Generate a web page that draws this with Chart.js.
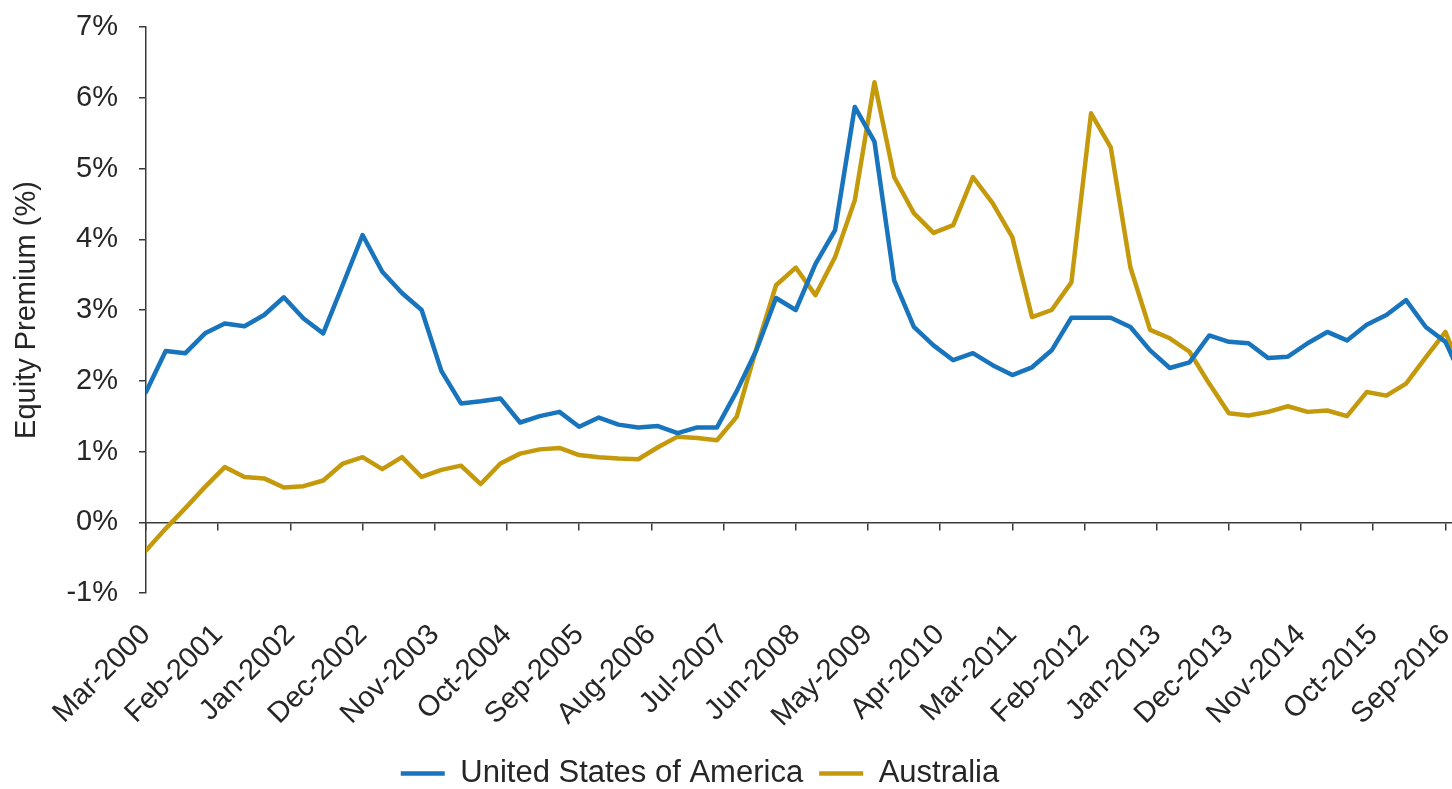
<!DOCTYPE html>
<html>
<head>
<meta charset="utf-8">
<script src="https://cdn.jsdelivr.net/npm/chart.js@4/dist/chart.umd.min.js"></script>
<style>
  html, body { margin: 0; padding: 0; background: #fff; }
  #wrap { width: 1452px; height: 789px; position: relative; }
</style>
</head>
<body>
<div id="wrap"><canvas id="premium"></canvas></div>
<script>
// Quarterly equity premium readings, first quarter is Mar-2000
const usa = [
  1.84, 2.42, 2.39, 2.67, 2.81, 2.77, 2.93, 3.18, 2.88, 2.67,
  3.36, 4.06, 3.54, 3.24, 3.00, 2.14, 1.68, 1.71, 1.75, 1.41,
  1.50, 1.56, 1.35, 1.48, 1.38, 1.34, 1.36, 1.26, 1.34, 1.34,
  1.85, 2.43, 3.17, 3.00, 3.65, 4.13, 5.87, 5.38, 3.42, 2.76,
  2.50, 2.29, 2.39, 2.22, 2.08, 2.19, 2.43, 2.89, 2.89, 2.89,
  2.76, 2.43, 2.18, 2.26, 2.64, 2.55, 2.53, 2.32, 2.34, 2.53,
  2.69, 2.57, 2.79, 2.93, 3.14, 2.76, 2.55, 1.95
];
const australia = [
  -0.40, -0.09, 0.20, 0.50, 0.78, 0.64, 0.62, 0.49, 0.51, 0.59,
  0.83, 0.92, 0.75, 0.92, 0.64, 0.74, 0.80, 0.54, 0.83, 0.97,
  1.03, 1.05, 0.95, 0.92, 0.90, 0.89, 1.06, 1.21, 1.19, 1.16,
  1.49, 2.45, 3.35, 3.60, 3.21, 3.75, 4.55, 6.22, 4.88, 4.37,
  4.09, 4.20, 4.88, 4.51, 4.03, 2.90, 3.00, 3.39, 5.78, 5.30,
  3.60, 2.72, 2.60, 2.41, 1.96, 1.54, 1.51, 1.56, 1.64, 1.56,
  1.58, 1.50, 1.84, 1.79, 1.96, 2.33, 2.69, 2.00
];

// x axis runs in months counted from Mar-2000, labelled every 11 months
const tickLabels = [
  'Mar-2000', 'Feb-2001', 'Jan-2002', 'Dec-2002', 'Nov-2003', 'Oct-2004',
  'Sep-2005', 'Aug-2006', 'Jul-2007', 'Jun-2008', 'May-2009', 'Apr-2010',
  'Mar-2011', 'Feb-2012', 'Jan-2013', 'Dec-2013', 'Nov-2014', 'Oct-2015',
  'Sep-2016'
];
const tickMonths = tickLabels.map((_, i) => i * 11);
const yTicks = [-1, 0, 1, 2, 3, 4, 5, 6, 7];

const FONT = 'Liberation Sans, Arial, sans-serif';
const TEXT = '#262626';
const AXIS = '#3a3a3a';

const toPoints = values => values.map((y, i) => ({ x: i * 3, y }));
const setTicks = (scale, values) => { scale.ticks = values.map(value => ({ value })); };

// legend sits a little left of centre and close to the bottom edge
const legendNudge = {
  id: 'legendNudge',
  afterLayout(chart) {
    const lg = chart.legend;
    lg.left -= 26;
    lg.right -= 26;
    lg.top += 10;
    lg.bottom += 10;
  }
};

new Chart(document.getElementById('premium'), {
  type: 'line',
  data: {
    datasets: [
      {
        label: 'United States of America',
        data: toPoints(usa),
        borderColor: '#1874BC',
        backgroundColor: '#1874BC',
        borderWidth: 4.5
      },
      {
        label: 'Australia',
        data: toPoints(australia),
        borderColor: '#C49A0C',
        backgroundColor: '#C49A0C',
        borderWidth: 4.5
      }
    ]
  },
  plugins: [legendNudge],
  options: {
    responsive: true,
    maintainAspectRatio: false,
    animation: false,
    layout: { padding: { top: 27, left: 0, right: 0, bottom: 0 } },
    elements: {
      point: { radius: 0 },
      line: { tension: 0, borderJoinStyle: 'round', borderCapStyle: 'round' }
    },
    plugins: {
      tooltip: { enabled: false },
      legend: {
        position: 'bottom',
        labels: {
          usePointStyle: true,
          pointStyle: 'line',
          pointStyleWidth: 44,
          padding: 16,
          color: TEXT,
          font: { family: FONT, size: 31 }
        }
      }
    },
    scales: {
      x: {
        type: 'linear',
        min: 0,
        max: 199,
        border: { display: false },
        grid: { display: false },
        afterBuildTicks: s => setTicks(s, tickMonths),
        afterFit: s => {
          s.paddingLeft = 0;
          s.paddingRight = 0;
          s.height = 196 - s.chart.legend.height;
        },
        ticks: {
          autoSkip: false,
          minRotation: 45,
          maxRotation: 45,
          padding: 17,
          color: TEXT,
          font: { family: FONT, size: 29 },
          callback: (v, i) => tickLabels[i]
        }
      },
      // zero line with its tick marks
      x2: {
        type: 'linear',
        axis: 'x',
        min: 0,
        max: 199,
        position: { y: 0 },
        afterBuildTicks: s => setTicks(s, tickMonths),
        afterFit: s => {
          s.height = 0;
          s.paddingLeft = 0;
          s.paddingRight = 0;
        },
        ticks: { display: false },
        grid: { drawOnChartArea: false, tickLength: 7, color: AXIS, lineWidth: 1.5 },
        border: { color: AXIS, width: 1.5 }
      },
      y: {
        min: -1,
        max: 7,
        afterBuildTicks: s => setTicks(s, yTicks),
        afterFit: s => {
          s.width = 146;
          s.paddingTop = 0;
          s.paddingBottom = 0;
        },
        border: { color: AXIS, width: 1.5 },
        grid: { drawOnChartArea: false, tickLength: 7, color: AXIS, lineWidth: 1.5 },
        ticks: {
          padding: 21,
          color: TEXT,
          font: { family: FONT, size: 29 },
          callback: v => v + '%'
        },
        title: {
          display: true,
          text: 'Equity Premium (%)',
          color: TEXT,
          font: { family: FONT, size: 29 },
          padding: { top: 10, bottom: 0 }
        }
      }
    }
  }
});
</script>
</body>
</html>
